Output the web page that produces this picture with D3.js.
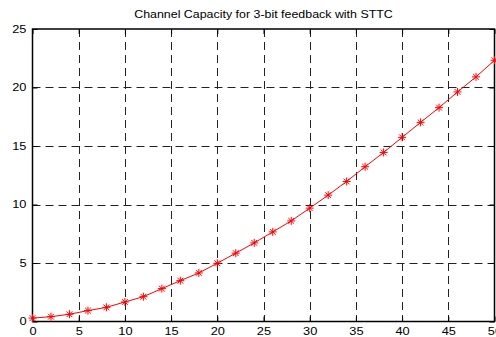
<!DOCTYPE html>
<html>
<head>
<meta charset="utf-8">
<script src="https://cdn.jsdelivr.net/npm/d3@7"></script>
<style>
  html, body { margin: 0; padding: 0; background: #fff; }
  svg { display: block; }
  text { font-family: "Liberation Sans", Arial, Helvetica, sans-serif; fill: #000; }
</style>
</head>
<body>
<script>
const title = "Channel Capacity for 3-bit feedback with STTC";
const xValues = [0,2,4,6,8,10,12,14,16,18,20,22,24,26,28,30,32,34,36,38,40,42,44,46,48,50];
const yValues = [0.29,0.41,0.62,0.93,1.21,1.67,2.12,2.81,3.49,4.15,4.98,5.84,6.72,7.66,8.60,9.69,10.80,11.97,13.23,14.45,15.74,17.02,18.28,19.62,20.91,22.33];
const xTicks = [0,5,10,15,20,25,30,35,40,45,50];
const yTicks = [0,5,10,15,20,25];

const W = 496, H = 337;
const m = {left: 32.5, right: 494.5, top: 29, bottom: 321.5};
const sx = 1.22; // horizontal text stretch of the reference

const svg = d3.select("body").append("svg").attr("width", W).attr("height", H);

const x = d3.scaleLinear().domain([0, 50]).range([m.left, m.right]);
const y = d3.scaleLinear().domain([0, 25]).range([m.bottom, m.top]);

// grid
const grid = svg.append("g").attr("stroke", "#222").attr("stroke-width", 1).attr("stroke-dasharray", "8,5");
grid.selectAll("line.v").data(xTicks.filter(d => d > 0 && d < 50)).join("line")
  .attr("x1", d => Math.round(x(d)) + 0.5).attr("x2", d => Math.round(x(d)) + 0.5)
  .attr("y1", m.top).attr("y2", m.bottom);
grid.selectAll("line.h").data(yTicks.filter(d => d > 0 && d < 25)).join("line")
  .attr("y1", d => Math.round(y(d)) + 0.5).attr("y2", d => Math.round(y(d)) + 0.5)
  .attr("x1", m.left).attr("x2", m.right);

// axes with inward ticks
const tl = 5;
const axB = svg.append("g").attr("transform", `translate(0,${m.bottom})`)
  .call(d3.axisBottom(x).tickValues(xTicks).tickSizeInner(-tl).tickSizeOuter(0).tickPadding(6));
const axT = svg.append("g").attr("transform", `translate(0,${m.top})`)
  .call(d3.axisTop(x).tickValues(xTicks).tickSizeInner(-tl).tickSizeOuter(0).tickFormat(""));
const axL = svg.append("g").attr("transform", `translate(${m.left},0)`)
  .call(d3.axisLeft(y).tickValues(yTicks).tickSizeInner(-tl).tickSizeOuter(0).tickPadding(6));
const axR = svg.append("g").attr("transform", `translate(${m.right},0)`)
  .call(d3.axisRight(y).tickValues(yTicks).tickSizeInner(-tl).tickSizeOuter(0).tickFormat(""));
[axB, axT, axL, axR].forEach(a => {
  a.select(".domain").remove();
  a.selectAll("line").attr("stroke", "#000");
});
axB.selectAll("text").attr("font-size", 10.5).attr("dy", "0.71em")
  .attr("transform", function() { const t = d3.select(this.parentNode).attr("transform"); return null; });
axB.selectAll(".tick text").each(function() {
  d3.select(this).attr("transform", `scale(${sx},1)`).attr("x", 0);
});
axL.selectAll(".tick text").each(function() {
  d3.select(this).attr("font-size", 10.5).attr("transform", `scale(${sx},1)`).attr("x", -6 / sx);
});

// box
svg.append("rect").attr("x", m.left).attr("y", m.top)
  .attr("width", m.right - m.left).attr("height", m.bottom - m.top)
  .attr("fill", "none").attr("stroke", "#000").attr("stroke-width", 1.5);

// data line
const pts = xValues.map((d, i) => [d, yValues[i]]);
svg.append("path").datum(pts)
  .attr("fill", "none").attr("stroke", "#ff0000").attr("stroke-width", 1)
  .attr("d", d3.line().x(d => x(d[0])).y(d => y(d[1])));

// asterisk markers
const r = 4;
const star = `M${-r},0L${r},0M0,${-r}L0,${r}M${-r*0.72},${-r*0.72}L${r*0.72},${r*0.72}M${-r*0.72},${r*0.72}L${r*0.72},${-r*0.72}`;
svg.append("g").selectAll("path").data(pts).join("path")
  .attr("transform", d => `translate(${x(d[0])},${y(d[1])})`)
  .attr("d", star).attr("stroke", "#ff0000").attr("stroke-width", 1).attr("fill", "none");

// title
svg.append("text")
  .attr("transform", `translate(${(m.left + m.right) / 2},18) scale(1.15,1)`)
  .attr("text-anchor", "middle").attr("font-size", 10.8).text(title);
</script>
</body>
</html>
